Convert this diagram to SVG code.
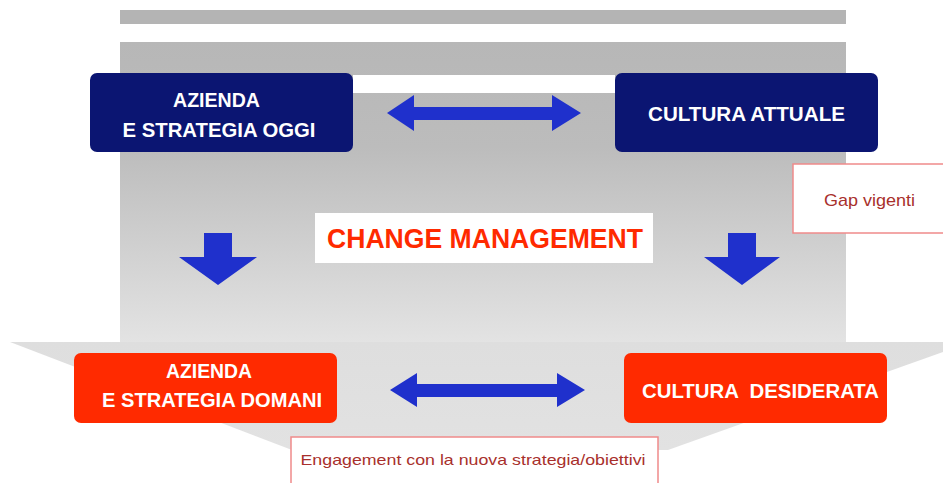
<svg xmlns="http://www.w3.org/2000/svg" width="943" height="483" viewBox="0 0 943 483">
  <style>
    .navy { fill: #0b1572; }
    .red { fill: #ff2a00; }
    .lbl { font-family: "Liberation Sans", Arial, sans-serif; font-weight: bold; fill: #ffffff; text-anchor: middle; }
    .note { fill: #ffffff; stroke: #ef8a8a; stroke-width: 1.5; }
    .note-text { font-family: "Liberation Sans", Arial, sans-serif; fill: #a8302c; text-anchor: middle; }
    .arrow { fill: #1f30cc; }
  </style>
  <defs>
    <linearGradient id="bodyGrad" x1="0" y1="42" x2="0" y2="342" gradientUnits="userSpaceOnUse">
      <stop offset="0" stop-color="#b7b7b7"/>
      <stop offset="0.35" stop-color="#bcbcbc"/>
      <stop offset="1" stop-color="#e3e3e3"/>
    </linearGradient>
    <linearGradient id="baseGrad" x1="0" y1="342" x2="0" y2="450" gradientUnits="userSpaceOnUse">
      <stop offset="0" stop-color="#dedede"/>
      <stop offset="1" stop-color="#e2e2e2"/>
    </linearGradient>
  </defs>

  <rect width="943" height="483" fill="#ffffff"/>

  <!-- background bands -->
  <g id="background">
    <rect x="120" y="10" width="726" height="14" fill="#b4b4b4"/>
    <rect x="120" y="42" width="726" height="301" fill="url(#bodyGrad)"/>
    <polygon points="10,342 943,342 943,352 668,450 292,450" fill="url(#baseGrad)"/>
    <rect x="353" y="75" width="262" height="18" fill="#ffffff"/>
  </g>

  <!-- connectors -->
  <g id="connectors">
    <polygon class="arrow" points="387,113 414,95 414,107 552,107 552,95 581,113 552,131 552,120 414,120 414,131"/>
    <polygon class="arrow" points="390,390 417,373 417,384 557,384 557,373 585,390 557,407 557,397 417,397 417,407"/>
    <polygon class="arrow" points="204,233 232,233 232,257 257,257 218,285 179,257 204,257"/>
    <polygon class="arrow" points="728,233 756,233 756,257 780,257 742,285 704,257 728,257"/>
  </g>

  <g id="node-azienda-oggi">
    <rect class="navy" x="90" y="73" width="263" height="79" rx="7"/>
    <text class="lbl" x="216.5" y="107" font-size="20" textLength="87" lengthAdjust="spacingAndGlyphs">AZIENDA</text>
    <text class="lbl" x="219" y="137" font-size="20" textLength="193" lengthAdjust="spacingAndGlyphs">E STRATEGIA OGGI</text>
  </g>

  <g id="node-cultura-attuale">
    <rect class="navy" x="615" y="73" width="263" height="79" rx="7"/>
    <text class="lbl" x="746.5" y="121" font-size="20" textLength="197" lengthAdjust="spacingAndGlyphs">CULTURA ATTUALE</text>
  </g>

  <g id="node-gap">
    <rect class="note" x="793" y="164" width="160" height="69"/>
    <text class="note-text" x="869.5" y="206" font-size="17" textLength="91" lengthAdjust="spacingAndGlyphs">Gap vigenti</text>
  </g>

  <g id="node-change">
    <rect x="315" y="213" width="338" height="50" fill="#ffffff"/>
    <text x="485" y="248" font-family="'Liberation Sans', Arial, sans-serif" font-weight="bold" font-size="28" fill="#ff2a00" text-anchor="middle" textLength="316" lengthAdjust="spacingAndGlyphs">CHANGE MANAGEMENT</text>
  </g>

  <g id="node-azienda-domani">
    <rect class="red" x="74" y="353" width="263" height="70" rx="7"/>
    <text class="lbl" x="209" y="378" font-size="20" textLength="86" lengthAdjust="spacingAndGlyphs">AZIENDA</text>
    <text class="lbl" x="212" y="407" font-size="20" textLength="220" lengthAdjust="spacingAndGlyphs">E STRATEGIA DOMANI</text>
  </g>

  <g id="node-cultura-desiderata">
    <rect class="red" x="624" y="353" width="263" height="70" rx="7"/>
    <text class="lbl" x="760.5" y="398" font-size="20" textLength="237" lengthAdjust="spacingAndGlyphs" xml:space="preserve">CULTURA  DESIDERATA</text>
  </g>

  <g id="node-engagement">
    <rect class="note" x="291" y="437" width="367" height="60"/>
    <text class="note-text" x="473" y="465" font-size="15" textLength="345" lengthAdjust="spacingAndGlyphs">Engagement con la nuova strategia/obiettivi</text>
  </g>
</svg>
